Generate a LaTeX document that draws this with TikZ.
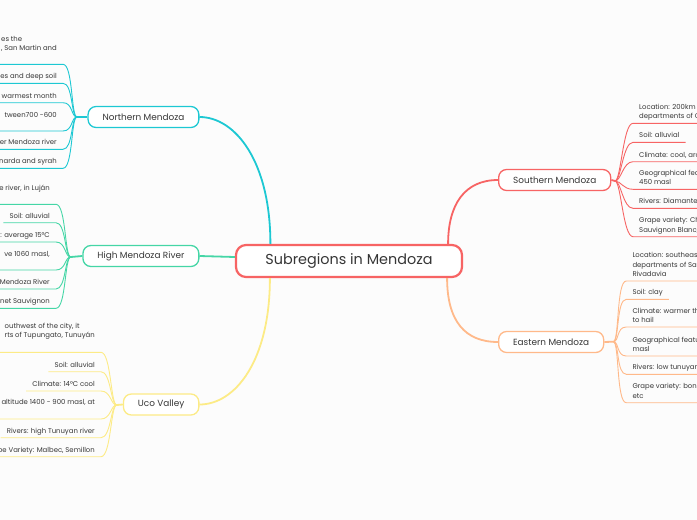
\documentclass[tikz,border=0pt]{standalone}
\usepackage{fontspec}
\setmainfont{Poppins}
\usetikzlibrary{calc}
\definecolor{inkred}{HTML}{F76464}
\definecolor{inkcyan}{HTML}{1DC8D3}
\definecolor{inkgreen}{HTML}{45D6A6}
\definecolor{inkyellow}{HTML}{FCEB86}
\definecolor{inkorange}{HTML}{FFB98A}
\definecolor{inktext}{HTML}{363636}
\definecolor{paper}{HTML}{FCFCFC}

\tikzset{
  rootnode/.style={draw=inkred, line width=2.2pt, fill=white, rounded corners=10pt,
    minimum width=226pt, minimum height=32pt, text=inktext,
    font=\fontsize{14.4}{17}\selectfont},
  branchnode/.style={draw=#1, line width=1.3pt, fill=white, rounded corners=8pt,
    minimum height=21pt, inner xsep=14.5pt, text=inktext,
    font=\fontsize{8.9}{10}\selectfont},
  leafnode/.style={inner xsep=6pt, inner ysep=0pt, text depth=4.5pt, align=left,
    text=inktext, font=\fontsize{6.9}{9.2}\selectfont},
  limb/.style={draw=#1, line width=1.8pt},
  twig/.style={draw=#1, line width=0.9pt},
}

\begin{document}
\begin{tikzpicture}[x=1pt, y=-1pt]
  \useasboundingbox (0,0) rectangle (697,520);
  \clip (0,0) rectangle (697,520);
  \fill[paper] (0,0) rectangle (697,520);

  \node[rootnode] (root) at (349,261) {Subregions in Mendoza};

  % branches, left then right
  \node[branchnode=inkcyan, anchor=east] (northern) at (199.5,117) {Northern Mendoza};
  \node[branchnode=inkgreen, anchor=east] (highriver) at (199.5,256) {High Mendoza River};
  \node[branchnode=inkyellow, anchor=east] (uco) at (199.5,404.5) {Uco Valley};
  \node[branchnode=inkred, anchor=west] (southern) at (498,180) {Southern Mendoza};
  \node[branchnode=inkorange, anchor=west] (eastern) at (498,342) {Eastern Mendoza};

  \draw[limb=inkcyan] ([xshift=35.5pt]root.north west)
    .. controls +(0,-83) and +(35.5,0) .. (northern.east);
  \draw[limb=inkgreen] ([yshift=4pt]root.west) -- (highriver.east);
  \draw[limb=inkyellow] ([xshift=35pt]root.south west)
    .. controls +(0,83) and +(35.5,0) .. (uco.east);
  \draw[limb=inkred] ([xshift=-15pt]root.north east)
    .. controls +(0,-40) and +(-33,0) .. (southern.west);
  \draw[limb=inkorange] ([xshift=-16pt]root.south east)
    .. controls +(0,43) and +(-33,0) .. (eastern.west);

  % hubs where the leaves fan out
  \coordinate (hubN) at (77,117);
  \coordinate (hubH) at (70.7,257);
  \coordinate (hubU) at (116.7,405);
  \coordinate (hubS) at (615,181);
  \coordinate (hubE) at (613.3,341.7);
  \draw[limb=inkcyan] (northern.west) -- (hubN);
  \draw[limb=inkgreen] (highriver.west) -- (hubH);
  \draw[limb=inkyellow] (uco.west) -- (hubU);
  \draw[limb=inkred] (southern.east) -- (hubS);
  \draw[limb=inkorange] (eastern.east) -- (hubE);

  % leaves of Northern Mendoza
  \foreach \y/\d/\lab [count=\i] in {64.3/13.7/{es the\\, San Martin and},
      83.3/4.5/{es and deep soil}, 102.7/4.5/{e warmest month},
      131/13.7/{tween700 -600}, 149.3/4.5/{er Mendoza river},
      168.3/4.5/{narda and syrah}}{%
    \node[leafnode, text depth=\d pt, anchor=south east] (nn\i) at (63,\y) {\lab};
    \draw[twig=inkcyan] (nn\i.south west) -- (nn\i.south east)
      .. controls +(10,0) and +(-6,0) .. (hubN);}

  % leaves of High Mendoza River
  \foreach \y/\d/\lab [count=\i] in {204.3/13.3/{e river, in Luj\'an},
      222.7/4.5/{Soil: alluvial}, 242/4.5/{: average 15°C},
      270/13/{ve 1060 masl,}, 289/4.5/{Mendoza River},
      308.3/4.5/{rnet Sauvignon}}{%
    \node[leafnode, text depth=\d pt, anchor=south east] (nh\i) at (56,\y) {\lab};
    \draw[twig=inkgreen] (nh\i.south west) -- (nh\i.south east)
      .. controls +(10,0) and +(-6,0) .. (hubH);}

  % leaves of Uco Valley
  \foreach \y/\d/\lab [count=\i] in {352.3/14.3/{outhwest of the city, it\\rts of Tupungato, Tunuy\'an},
      371.7/4.5/{Soil: alluvial}, 391/4.5/{Climate: 14°C cool},
      419/14.3/{altitude 1400 - 900 masl, at}, 437.7/4.5/{Rivers: high Tunuyan river},
      456.7/4.5/{pe Variety: Malbec, Semillon}}{%
    \node[leafnode, text depth=\d pt, anchor=south east] (nu\i) at (101,\y) {\lab};
    \draw[twig=inkyellow] (nu\i.south west) -- (nu\i.south east)
      .. controls +(10,0) and +(-6,0) .. (hubU);}

  % leaves of Southern Mendoza
  \foreach \y/\lab [count=\i] in {123.3/{Location: 200km\\departments of C},
      142.3/{Soil: alluvial}, 161.7/{Climate: cool, arc},
      189.3/{Geographical fea\\450 masl}, 208.3/{Rivers: Diamante},
      236.7/{Grape variety: Ch\\Sauvignon Blanc,}}{%
    \node[leafnode, anchor=south west] (ns\i) at (633,\y) {\lab};
    \draw[twig=inkred] (hubS) .. controls +(6,0) and +(-10,0) .. (ns\i.south west)
      -- (ns\i.south east);}

  % leaves of Eastern Mendoza
  \foreach \y/\lab [count=\i] in {281/{Location: southeas\\departments of Sa\\Rivadavia},
      299.3/{Soil: clay}, 327/{Climate: warmer th\\to hail},
      356/{Geographical featu\\masl}, 374.3/{Rivers: low tunuyan},
      402.7/{Grape variety: bon\\etc}}{%
    \node[leafnode, anchor=south west] (ne\i) at (626.3,\y) {\lab};
    \draw[twig=inkorange] (hubE) .. controls +(6,0) and +(-10,0) .. (ne\i.south west)
      -- (ne\i.south east);}
\end{tikzpicture}
\end{document}
